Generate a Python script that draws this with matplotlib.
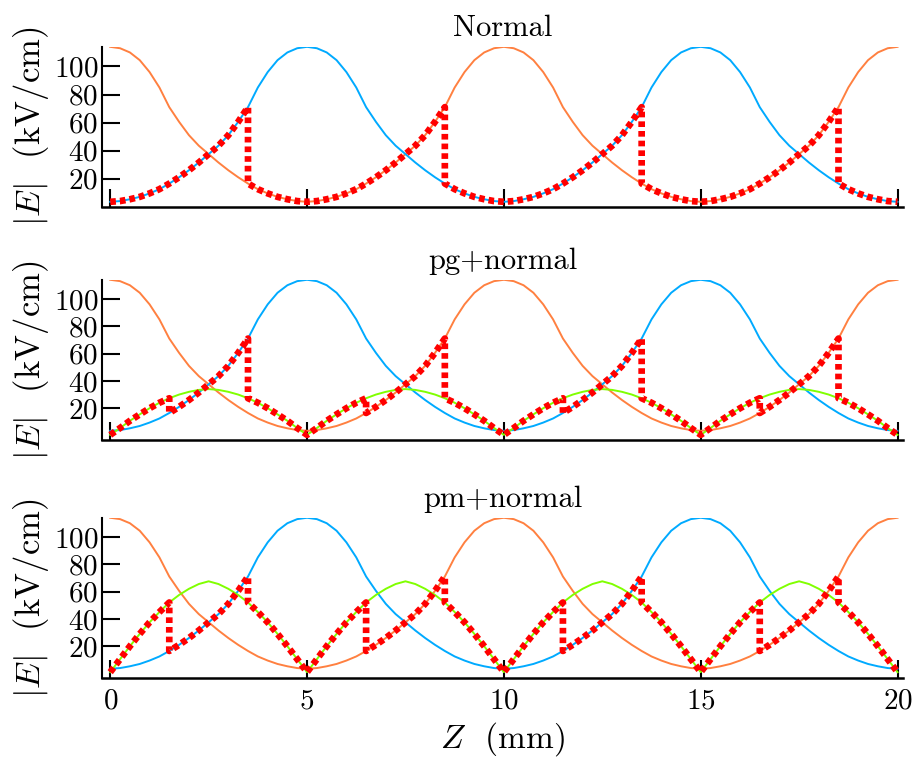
import numpy as np
import matplotlib
matplotlib.use("Agg")
import matplotlib.pyplot as plt

plt.rcParams['font.family'] = 'cmr10'
plt.rcParams['mathtext.fontset'] = 'cm'
plt.rcParams['axes.formatter.use_mathtext'] = True

# Z positions (mm), 0.25 mm step
z = np.arange(81) * 0.25

# |E| (kV/cm)
orange = [114, 113, 110, 104.5, 96, 85, 71, 60.5, 51, 43.5, 37.5, 31.5, 26, 21, 16.5, 12.5, 9.5, 7, 5.3, 4, 3.5,
          4, 5.3, 7, 9.5, 12.5, 16.5, 21, 26, 31.5, 37.5, 43.5, 51, 60.5, 71, 85, 96, 104.5, 110, 113, 114,
          113, 110, 104.5, 96, 85, 71, 60.5, 51, 43.5, 37.5, 31.5, 26, 21, 16.5, 12.5, 9.5, 7, 5.3, 4, 3.5,
          4, 5.3, 7, 9.5, 12.5, 16.5, 21, 26, 31.5, 37.5, 43.5, 51, 60.5, 71, 85, 96, 104.5, 110, 113, 114]
blue = [3.5, 4, 5.3, 7, 9.5, 12.5, 16.5, 21, 26, 31.5, 37.5, 43.5, 51, 60.5, 71, 85, 96, 104.5, 110, 113, 114,
        113, 110, 104.5, 96, 85, 71, 60.5, 51, 43.5, 37.5, 31.5, 26, 21, 16.5, 12.5, 9.5, 7, 5.3, 4, 3.5,
        4, 5.3, 7, 9.5, 12.5, 16.5, 21, 26, 31.5, 37.5, 43.5, 51, 60.5, 71, 85, 96, 104.5, 110, 113, 114,
        113, 110, 104.5, 96, 85, 71, 60.5, 51, 43.5, 37.5, 31.5, 26, 21, 16.5, 12.5, 9.5, 7, 5.3, 4, 3.5]
green_pg = [0.5, 5.5, 10.8, 15.5, 20, 24, 27.3, 30, 32, 33.4, 34, 33.4, 32, 30, 27.3, 24, 20, 15.5, 10.8, 5.5,
            0.5, 5.5, 10.8, 15.5, 20, 24, 27.3, 30, 32, 33.4, 34, 33.4, 32, 30, 27.3, 24, 20, 15.5, 10.8, 5.5,
            0.5, 5.5, 10.8, 15.5, 20, 24, 27.3, 30, 32, 33.4, 34, 33.4, 32, 30, 27.3, 24, 20, 15.5, 10.8, 5.5,
            0.5, 5.5, 10.8, 15.5, 20, 24, 27.3, 30, 32, 33.4, 34, 33.4, 32, 30, 27.3, 24, 20, 15.5, 10.8, 5.5, 0.5]
green_pm = [1, 10.5, 20, 29, 37.5, 45, 52, 57.5, 62, 65.5, 67.5, 65.5, 62, 57.5, 52, 45, 37.5, 29, 20, 10.5,
            1, 10.5, 20, 29, 37.5, 45, 52, 57.5, 62, 65.5, 67.5, 65.5, 62, 57.5, 52, 45, 37.5, 29, 20, 10.5,
            1, 10.5, 20, 29, 37.5, 45, 52, 57.5, 62, 65.5, 67.5, 65.5, 62, 57.5, 52, 45, 37.5, 29, 20, 10.5,
            1, 10.5, 20, 29, 37.5, 45, 52, 57.5, 62, 65.5, 67.5, 65.5, 62, 57.5, 52, 45, 37.5, 29, 20, 10.5, 1]

# switching points of the red envelope (mm) and which curve it follows
switch_normal = [0, 3.5, 8.5, 13.5, 18.5, 20]
follow_normal = ['blue', 'orange', 'blue', 'orange', 'blue']
switch_mixed = [0, 1.5, 3.5, 6.5, 8.5, 11.5, 13.5, 16.5, 18.5, 20]
follow_mixed = ['green', 'blue', 'green', 'orange', 'green', 'blue', 'green', 'orange', 'green']

titles = ['Normal', 'pg+normal', 'pm+normal']

c_orange = '#FF8040'
c_blue = '#00AAFF'
c_green = '#80FF00'
c_red = '#FF0000'


def envelope(switch, follow, curves):
    zs, es = [], []
    for k, name in enumerate(follow):
        i0 = int(round(switch[k] / 0.25))
        i1 = int(round(switch[k + 1] / 0.25))
        zs.extend(z[i0:i1 + 1])
        es.extend(np.asarray(curves[name])[i0:i1 + 1])
    return zs, es


fig = plt.figure(figsize=(9.13, 7.63), dpi=100)
bottoms = [0.7291, 0.4229, 0.1110]
ylims = [(0, 114.1), (-3.5, 113.6), (-3.5, 113.6)]
greens = [None, green_pg, green_pm]

for p in range(3):
    ax = fig.add_axes([0.1121, bottoms[p], 0.877, 0.2097])
    ax.plot(z, orange, color=c_orange, lw=1.4)
    ax.plot(z, blue, color=c_blue, lw=1.4)
    curves = {'orange': orange, 'blue': blue}
    if greens[p] is None:
        zs, es = envelope(switch_normal, follow_normal, curves)
    else:
        curves['green'] = greens[p]
        ax.plot(z, greens[p], color=c_green, lw=1.4)
        zs, es = envelope(switch_mixed, follow_mixed, curves)
    ax.plot(zs, es, color=c_red, lw=4.8, linestyle=(0, (0.85, 0.6)),
            dash_capstyle='butt', solid_joinstyle='miter')

    ax.set_xlim(-0.2, 20.14)
    ax.set_ylim(*ylims[p])
    ax.set_xticks([0, 5, 10, 15, 20])
    ax.set_yticks([20, 40, 60, 80, 100])
    ax.spines['top'].set_visible(False)
    ax.spines['right'].set_visible(False)
    ax.spines['left'].set_linewidth(1.5)
    ax.spines['bottom'].set_linewidth(1.8)
    ax.tick_params(direction='in', length=13, width=1.5, labelsize=21)
    ax.tick_params(axis='y', pad=3)
    ax.tick_params(axis='x', pad=7)
    if p < 2:
        ax.tick_params(axis='x', labelbottom=False)
    ax.set_title(titles[p], fontsize=22, pad=8)
    ax.set_ylabel(r'$|E|$  (kV/cm)', fontsize=25, labelpad=2)

ax.set_xlabel(r'$Z$  (mm)', fontsize=24, labelpad=4)

fig.savefig('out.png', dpi=100)
